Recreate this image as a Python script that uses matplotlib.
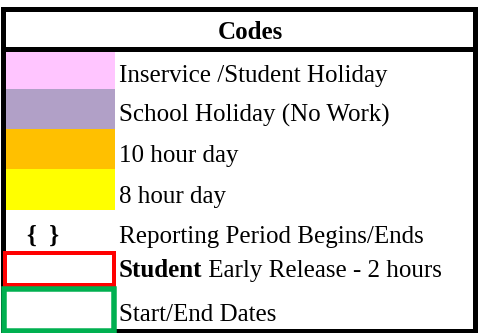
import matplotlib
import matplotlib.pyplot as plt
import matplotlib.patches as mpatches

matplotlib.use("Agg")

# legend content
TITLE = "Codes"
SWATCH_LABELS = ["Inservice /Student Holiday", "School Holiday (No Work)", "10 hour day", "8 hour day"]
SWATCH_COLORS = ["#FFC5FF", "#B1A0C7", "#FFC000", "#FFFF00"]
BRACKET_SYMBOL = "{  }"
BRACKET_LABEL = "Reporting Period Begins/Ends"
OUTLINE_BOLD = ["Student", ""]
OUTLINE_LABELS = [" Early Release - 2 hours", "Start/End Dates"]
OUTLINE_COLORS = ["#FF0000", "#00B050"]

W, H = 479, 333
FONT = "Liberation Serif"
FS = 18

fig = plt.figure(figsize=(W / 100, H / 100), dpi=100)
ax = fig.add_axes([0, 0, 1, 1])
ax.set_xlim(0, W)
ax.set_ylim(H, 0)
ax.axis("off")

# outer frame + header
ax.add_patch(mpatches.Rectangle((3.5, 8.5), 472, 322, fill=False, edgecolor="black", linewidth=3.6, zorder=5))
ax.plot([3.5, 475.5], [48.5, 48.5], color="black", linewidth=3.6, zorder=5)
ax.text(250, 39, TITLE, ha="center", va="baseline", fontsize=FS, fontweight="bold", family=FONT)

text_x = 119
swatch_x0, swatch_x1 = 6, 115

# colored swatch rows
row_edges = [51, 89, 129, 169, 210]
for i, (label, color) in enumerate(zip(SWATCH_LABELS, SWATCH_COLORS)):
    y0, y1 = row_edges[i], row_edges[i + 1]
    ax.add_patch(mpatches.Rectangle((swatch_x0, y0), swatch_x1 - swatch_x0, y1 - y0,
                                    facecolor=color, edgecolor="none", zorder=2))
    ax.text(text_x, y1 - 7, label, ha="left", va="baseline", fontsize=FS, family=FONT)

# reporting period row
ax.text(43, 243, BRACKET_SYMBOL, ha="center", va="baseline", fontsize=FS, fontweight="bold", family=FONT)
ax.text(text_x, 243, BRACKET_LABEL, ha="left", va="baseline", fontsize=FS, family=FONT)

# outlined rows
box_rows = [(3, 253, 113, 32, 4), (1, 289, 116, 42, 5.5)]
baselines = [277, 321]
for (bx, by, bw, bh, lw), ty, bold, label, color in zip(box_rows, baselines, OUTLINE_BOLD, OUTLINE_LABELS, OUTLINE_COLORS):
    ax.add_patch(mpatches.Rectangle((bx + lw / 2, by), bw - lw, bh, fill=False,
                                    edgecolor=color, linewidth=lw * 72 / 100, zorder=6))
    if bold:
        t = ax.text(text_x, ty, bold, ha="left", va="baseline", fontsize=FS, fontweight="bold", family=FONT)
        ax.annotate(label, xy=(1, 0), xycoords=t, ha="left", va="bottom", fontsize=FS, family=FONT)
    else:
        ax.text(text_x, ty, label, ha="left", va="baseline", fontsize=FS, family=FONT)

fig.savefig("out.png", dpi=100, facecolor="white")
